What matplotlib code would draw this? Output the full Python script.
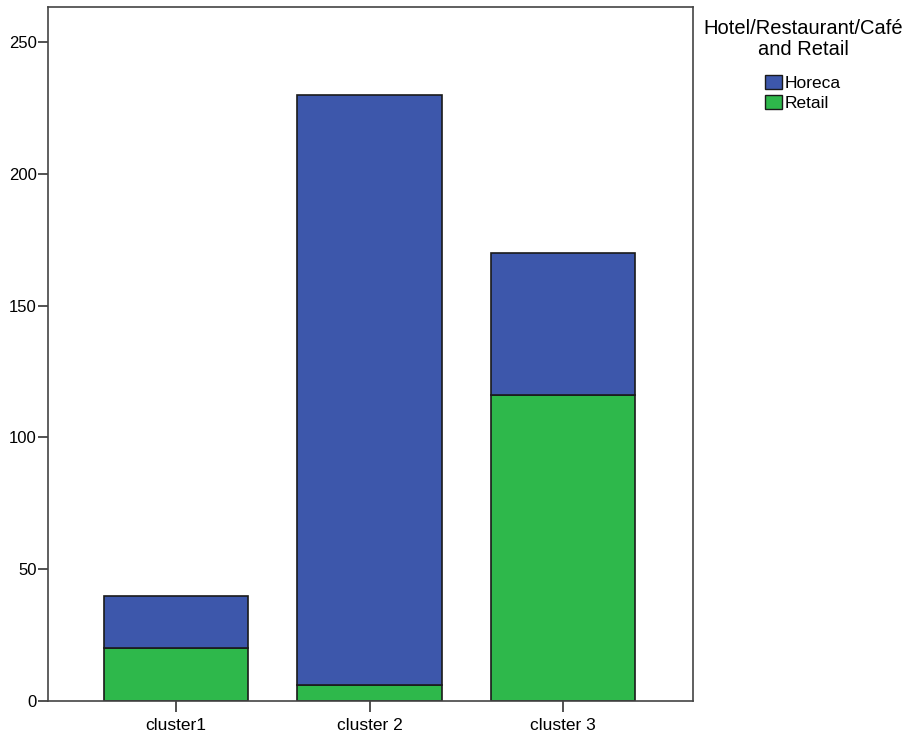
import numpy as np
import matplotlib.pyplot as plt
from matplotlib.patches import Patch

# Counts per cluster, split by channel
clusters = ['cluster1', 'cluster 2', 'cluster 3']
retail = [20, 6, 116]
horeca = [20, 224, 54]

blue = '#3D57AB'
green = '#2EB84B'

plt.rcParams['font.family'] = ['Liberation Sans', 'DejaVu Sans']

fig = plt.figure(figsize=(9.13, 7.52), dpi=100)
ax = fig.add_axes([48 / 913, 1 - 701 / 752, 645 / 913, 694 / 752])

x = np.arange(len(clusters))
ax.bar(x, retail, width=0.745, color=green, edgecolor='#1a1a1a', linewidth=1.2)
ax.bar(x, horeca, width=0.745, bottom=retail, color=blue, edgecolor='#1a1a1a', linewidth=1.2)

ax.set_xlim(-0.66, 2.67)
ax.set_ylim(0, 263.3)
ax.set_xticks(x)
ax.set_xticklabels(clusters, fontsize=12.5)
ax.set_yticks([0, 50, 100, 150, 200, 250])
ax.tick_params(axis='y', labelsize=12, length=7, width=1.2, color='#333333', pad=1)
ax.tick_params(axis='x', length=8, width=1.2, color='#333333', pad=4)

for s in ax.spines.values():
    s.set_color('#444444')
    s.set_linewidth(1.2)

handles = [Patch(facecolor=blue, edgecolor='#1a1a1a', label='Horeca'),
           Patch(facecolor=green, edgecolor='#1a1a1a', label='Retail')]
fig.text(803 / 913, 1 - 39 / 752, 'Hotel/Restaurant/Café\nand Retail',
         ha='center', va='center', fontsize=14.5, linespacing=1.15)
fig.legend(handles=handles, loc='upper left', bbox_to_anchor=(756 / 913, 1 - 66 / 752),
           frameon=False, fontsize=12.5, handlelength=1.0, handleheight=0.9,
           handletextpad=0.15, labelspacing=0.22, borderpad=0)

fig.savefig('out.png', dpi=100)
